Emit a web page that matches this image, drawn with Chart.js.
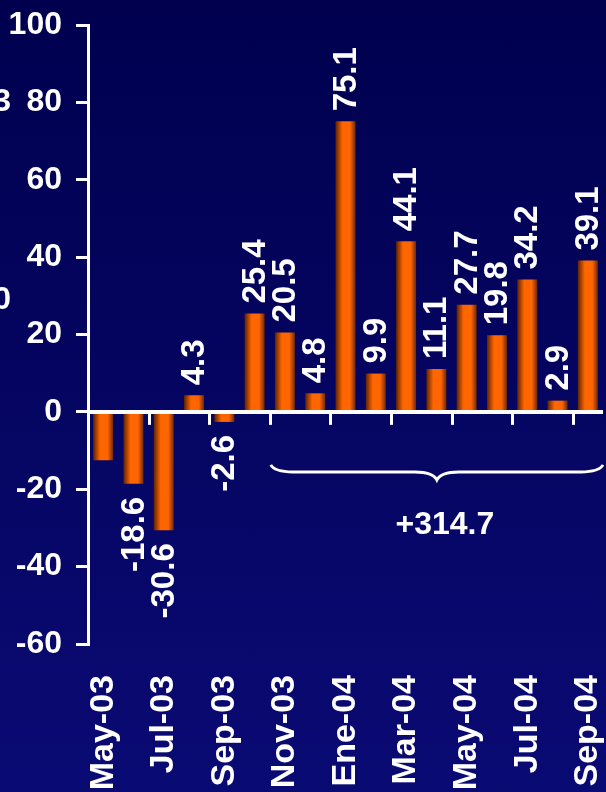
<!DOCTYPE html>
<html>
<head>
<meta charset="utf-8">
<script src="https://cdn.jsdelivr.net/npm/chart.js@4"></script>
<style>
  html, body { margin: 0; padding: 0; }
  body { width: 606px; height: 792px; overflow: hidden; background: linear-gradient(#00004f, #0a0a74); }
  #wrap { position: relative; width: 606px; height: 792px; }
</style>
</head>
<body>
<div id="wrap"><canvas id="chart"></canvas></div>
<script>
const months = ["May-03", "Jun-03", "Jul-03", "Ago-03", "Sep-03", "Oct-03", "Nov-03", "Dic-03", "Ene-04",
  "Feb-04", "Mar-04", "Abr-04", "May-04", "Jun-04", "Jul-04", "Ago-04", "Sep-04"];
const values = [-12.5, -18.6, -30.6, 4.3, -2.6, 25.4, 20.5, 4.8, 75.1, 9.9, 44.1, 11.1, 27.7, 19.8, 34.2, 2.9, 39.1];
const unlabelled = [0];
const yRange = { min: -60, max: 100, step: 20 };
const braceFrom = 6;
const braceTo = 16;
const braceText = "+314.7";
const edgeText = [{ text: "3", value: 80 }, { text: "0", value: 29 }];

const FONT = "'Liberation Sans', Arial, sans-serif";
const WHITE = "#ffffff";
const BAR_FRACTION = 0.66;

Chart.defaults.font.family = FONT;
Chart.defaults.font.weight = "bold";
Chart.defaults.color = WHITE;

function barFill(ctx) {
  const chart = ctx.chart;
  const area = chart.chartArea;
  if (!area) return "#ff6600";
  const x = chart.scales.x.getPixelForValue(ctx.dataIndex);
  const half = ((area.right - area.left) / months.length) * BAR_FRACTION / 2;
  const g = chart.ctx.createLinearGradient(x - half, 0, x + half, 0);
  g.addColorStop(0, "#5e2200");
  g.addColorStop(0.35, "#ff6600");
  g.addColorStop(0.72, "#ff6600");
  g.addColorStop(1, "#702a00");
  return g;
}

// zero line, category ticks, value labels and the bracket under the 2003-2004 run
const overlay = {
  id: "overlay",
  afterDatasetsDraw(chart) {
    const { ctx, chartArea, scales } = chart;
    const x = scales.x;
    const y = scales.y;
    const y0 = y.getPixelForValue(0);
    const step = (i) => (x.getPixelForValue(i - 1) + x.getPixelForValue(i)) / 2;

    ctx.save();
    ctx.strokeStyle = WHITE;
    ctx.lineWidth = 4;
    ctx.beginPath();
    ctx.moveTo(chartArea.left, y0);
    ctx.lineTo(chartArea.right, y0);
    ctx.stroke();

    ctx.lineWidth = 3;
    for (let i = 2; i < months.length; i += 2) {
      const tx = Math.round(step(i)) + 0.5;
      ctx.beginPath();
      ctx.moveTo(tx, y0);
      ctx.lineTo(tx, y0 + 13);
      ctx.stroke();
    }

    // rotated value labels
    ctx.fillStyle = WHITE;
    ctx.font = `bold 33px ${FONT}`;
    ctx.textBaseline = "middle";
    chart.getDatasetMeta(0).data.forEach((bar, i) => {
      if (unlabelled.includes(i)) return;
      const v = values[i];
      ctx.save();
      if (v >= 0) {
        ctx.translate(bar.x + 1, bar.y - 10);
        ctx.rotate(-Math.PI / 2);
        ctx.textAlign = "left";
      } else {
        ctx.translate(bar.x + 1, bar.y + 13);
        ctx.rotate(-Math.PI / 2);
        ctx.textAlign = "right";
      }
      ctx.fillText(v.toFixed(1), 0, 0);
      ctx.restore();
    });

    // curly bracket
    const bl = step(braceFrom) + 1;
    const br = braceTo === months.length - 1 ? chartArea.right : step(braceTo + 1);
    const mid = (bl + br) / 2;
    const top = y0 + 53;
    const line = top + 7;
    const tip = top + 15;
    ctx.lineWidth = 3;
    ctx.beginPath();
    ctx.moveTo(bl, top);
    ctx.quadraticCurveTo(bl + 4, line, bl + 22, line);
    ctx.lineTo(mid - 22, line);
    ctx.quadraticCurveTo(mid - 4, line, mid, tip);
    ctx.quadraticCurveTo(mid + 4, line, mid + 22, line);
    ctx.lineTo(br - 22, line);
    ctx.quadraticCurveTo(br - 4, line, br, top);
    ctx.stroke();

    ctx.font = `bold 32px ${FONT}`;
    ctx.textAlign = "center";
    ctx.fillText(braceText, mid + 8, top + 60);

    // clipped title characters at the left edge
    ctx.textAlign = "right";
    edgeText.forEach((t) => ctx.fillText(t.text, 11, y.getPixelForValue(t.value)));
    ctx.restore();
  },
};

new Chart(document.getElementById("chart"), {
  type: "bar",
  data: {
    labels: months,
    datasets: [
      {
        data: values,
        backgroundColor: barFill,
        borderWidth: 0,
        barPercentage: BAR_FRACTION,
        categoryPercentage: 1,
      },
    ],
  },
  options: {
    responsive: true,
    maintainAspectRatio: false,
    animation: false,
    layout: { padding: { top: 25, right: 3, left: 0, bottom: 0 } },
    plugins: { legend: { display: false }, tooltip: { enabled: false } },
    scales: {
      x: {
        offset: true,
        border: { display: false },
        grid: { display: false, drawTicks: false },
        ticks: {
          autoSkip: false,
          minRotation: 90,
          maxRotation: 90,
          padding: 31,
          color: WHITE,
          font: { size: 34, weight: "bold" },
          callback: (v, i) => (i % 2 === 0 ? months[i] : ""),
        },
        afterFit(scale) {
          scale.height = 148;
          scale.paddingLeft = 0;
          scale.paddingRight = 0;
        },
      },
      y: {
        min: yRange.min,
        max: yRange.max,
        border: { display: true, color: WHITE, width: 3 },
        grid: { drawOnChartArea: false, color: WHITE, lineWidth: 3, tickLength: 12 },
        ticks: {
          stepSize: yRange.step,
          padding: 14,
          color: WHITE,
          font: { size: 32, weight: "bold" },
        },
        afterFit(scale) {
          scale.width = 88;
          scale.paddingTop = 0;
          scale.paddingBottom = 0;
        },
      },
    },
  },
  plugins: [overlay],
});
</script>
</body>
</html>
